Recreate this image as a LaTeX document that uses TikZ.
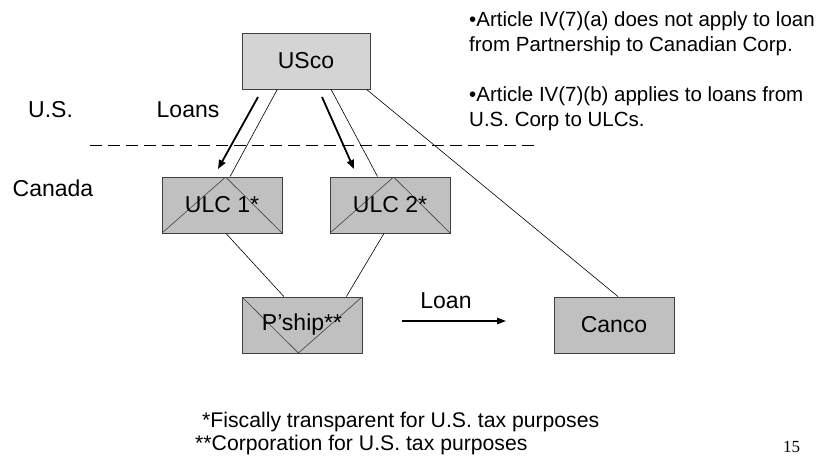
\documentclass[tikz,border=0pt]{standalone}
\usepackage{fontspec}
\setmainfont{Liberation Sans}
\newfontfamily\numfont{Liberation Serif}
\usetikzlibrary{calc,arrows.meta}
\definecolor{boxgray}{HTML}{C0C0C0}
\definecolor{topgray}{HTML}{D4D4D4}
\definecolor{edgegray}{HTML}{404040}
\begin{document}
\begin{tikzpicture}[x=1pt,y=-1pt,
  entity/.style={draw=edgegray, line width=0.9pt, fill=boxgray,
    minimum width=120pt, minimum height=56pt, inner sep=0pt,
    font=\fontsize{23}{27}\selectfont},
  peaked/.style={path picture={
    \draw[line width=0.6pt] (path picture bounding box.south west)
      -- ($(path picture bounding box.north west)!0.53!(path picture bounding box.north east)$)
      -- (path picture bounding box.south east);}},
  valley/.style={path picture={
    \draw[line width=0.6pt] (path picture bounding box.north west)
      -- ($(path picture bounding box.south west)!0.47!(path picture bounding box.south east)$)
      -- (path picture bounding box.north east);}},
  link/.style={line width=0.6pt},
  loanarrow/.style={line width=1.8pt, -{Triangle[length=9pt,width=7pt]}},
  plain/.style={font=\fontsize{23}{27}\selectfont, inner sep=0pt, anchor=base west},
  note/.style={font=\fontsize{20.5}{25}\selectfont, inner sep=0pt, anchor=base west},
  foot/.style={font=\fontsize{21.2}{24}\selectfont, inner sep=0pt, anchor=base west}
]
\useasboundingbox (0,0) rectangle (833,456);

% entities
\node[entity, fill=topgray, minimum width=128pt] (usco) at (306,61) {USco};
\node[entity, peaked] (ulc1) at (222,205) {ULC 1*};
\node[entity, peaked] (ulc2) at (390,205) {ULC 2*};
\node[entity, valley] (pship) at (302,325) {P’ship**};
\node[entity] (canco) at (614,325) {Canco};

% ownership lines
\draw[link] ($(usco.south west)!0.277!(usco.south east)$) -- ($(ulc1.north west)!0.567!(ulc1.north east)$);
\draw[link] ($(usco.south west)!0.695!(usco.south east)$) -- ($(ulc2.north west)!0.397!(ulc2.north east)$);
\draw[link] ($(usco.south west)!0.97!(usco.south east)$) -- ($(canco.north west)!0.533!(canco.north east)$);
\draw[link] ($(ulc1.south west)!0.533!(ulc1.south east)$) -- ($(pship.north west)!0.35!(pship.north east)$);
\draw[link] ($(ulc2.south west)!0.45!(ulc2.south east)$) -- ($(pship.north west)!0.867!(pship.north east)$);

% border between the countries
\coordinate (borderL) at (90,145.5);
\coordinate (borderR) at (537,145.5);
\draw[line width=1.7pt, dash pattern=on 12pt off 6pt] (borderL) -- (borderR);

% loans
\coordinate (l1s) at (258,97);
\coordinate (l1e) at (218,169);
\coordinate (l2s) at (322,97);
\coordinate (l2e) at (354,169);
\draw[loanarrow] (l1s) -- (l1e);
\draw[loanarrow] (l2s) -- (l2e);
\coordinate (lps) at (402,321);
\coordinate (lpe) at (506,321);
\draw[line width=1.2pt, -{Triangle[length=9pt,width=6.5pt]}] (lps) -- (lpe);

% labels
\node[plain] (us) at (28,117) {U.S.};
\node[plain] (loans) at (156.5,117) {Loans};
\node[plain] (canada) at (12.5,196.5) {Canada};
\node[plain, anchor=base] (loan) at (446,308) {Loan};

% treaty notes
\node[note] (n1a) at (469,26) {\textbullet Article IV(7)(a) does not apply to loan};
\node[note] (n1b) at (469,51) {from Partnership to Canadian Corp.};
\node[note] (n2a) at (469,101) {\textbullet Article IV(7)(b) applies to loans from};
\node[note] (n2b) at (469,126) {U.S. Corp to ULCs.};

% footnotes and page number
\node[foot] (f1) at (202,427) {*Fiscally transparent for U.S. tax purposes};
\node[foot] (f2) at (195,450) {**Corporation for U.S. tax purposes};
\node[font=\numfont\fontsize{17}{20}\selectfont, inner sep=0pt, anchor=base west] (pg) at (783,452) {15};
\end{tikzpicture}
\end{document}
